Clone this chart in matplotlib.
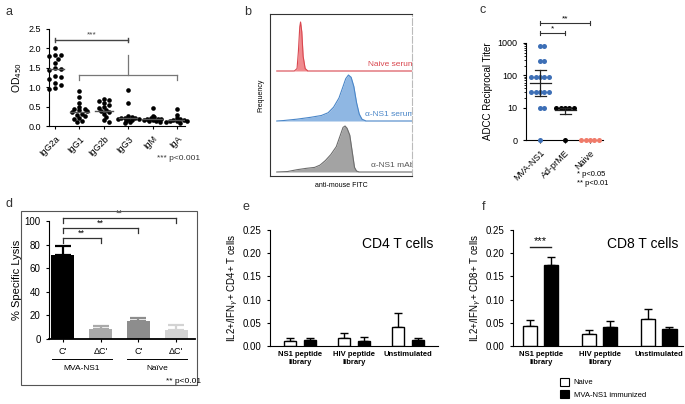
import numpy as np
import matplotlib
matplotlib.use("Agg")
import matplotlib.pyplot as plt
from matplotlib.patches import Rectangle, Patch

plt.rcParams['font.family'] = ['Liberation Sans', 'DejaVu Sans']
plt.rcParams['axes.linewidth'] = 0.8
plt.rcParams['xtick.major.width'] = 0.8
plt.rcParams['ytick.major.width'] = 0.8
plt.rcParams['xtick.major.size'] = 2.5
plt.rcParams['ytick.major.size'] = 2.5

W, H = 685, 404

# ---- panel a: OD450 per isotype
iso_names = ["IgG2a", "IgG1", "IgG2b", "IgG3", "IgM", "IgA"]
igg2a = [2.02, 1.83, 1.80, 1.82, 1.72, 1.63, 1.50, 1.47, 1.45, 1.30, 1.27, 1.22, 1.10, 1.05, 0.97, 0.95]
igg1 = [0.90, 0.75, 0.60, 0.50, 0.45, 0.44, 0.40, 0.38, 0.35, 0.32, 0.28, 0.25, 0.20, 0.18, 0.12, 0.10]
igg2b = [0.70, 0.68, 0.65, 0.60, 0.55, 0.50, 0.47, 0.42, 0.38, 0.35, 0.30, 0.22, 0.15, 0.10]
igg3 = [0.92, 0.60, 0.25, 0.22, 0.21, 0.20, 0.20, 0.19, 0.18, 0.17, 0.15, 0.13, 0.10, 0.08]
igm = [0.47, 0.27, 0.22, 0.20, 0.19, 0.18, 0.17, 0.16, 0.15, 0.14, 0.12, 0.10]
iga = [0.45, 0.28, 0.20, 0.17, 0.16, 0.15, 0.14, 0.13, 0.12, 0.11, 0.09]
iso_median = [1.47, 0.35, 0.38, 0.20, 0.18, 0.15]

# ---- panel b: histograms (x in % of axis, y relative to peak)
naive_x = [0, 13, 15, 16, 17, 17.6, 18.5, 19.5, 21, 23, 100]
naive_y = [0, 0, 0.05, 0.4, 0.9, 1.0, 0.8, 0.3, 0.05, 0, 0]
serum_x = [0, 5, 15, 25, 33, 38, 42, 46, 49, 51, 53, 55, 57, 59, 61, 63, 66, 100]
serum_y = [0, 0.01, 0.04, 0.08, 0.12, 0.18, 0.3, 0.5, 0.75, 0.92, 1.0, 0.95, 0.75, 0.4, 0.15, 0.04, 0, 0]
mab_x = [0, 8, 15, 22, 28, 32, 36, 40, 44, 47, 49, 50.5, 52, 54, 56, 57.5, 59, 61, 100]
mab_y = [0, 0.01, 0.05, 0.08, 0.1, 0.15, 0.25, 0.38, 0.55, 0.8, 0.97, 1.0, 0.95, 0.8, 0.4, 0.1, 0.02, 0, 0]

# ---- panel c: ADCC titers
adcc_groups = ["MVA-NS1", "Ad-prME", "Naive"]
adcc_mva = [810, 810, 270, 270, 90, 90, 90, 90, 90, 30, 30, 30, 30, 30, 10, 10, 0]
adcc_ad = [10, 10, 10, 10, 10, 0]
adcc_naive = [0, 0, 0, 0, 0]
adcc_mean = [60, 8.5]
adcc_lo = [23, 6.5]
adcc_hi = [150, 10]

# ---- panel d: specific lysis
lysis_labels = ["C'", "ΔC'", "C'", "ΔC'"]
lysis = [71, 8.5, 15.5, 8]
lysis_err = [8, 2.5, 2.5, 3.5]

# ---- panels e, f: T cells
tc_groups = ["NS1 peptide\nlibrary", "HIV peptide\nlibrary", "Unstimulated"]
cd4_naive = [0.011, 0.018, 0.040]
cd4_naive_err = [0.006, 0.010, 0.031]
cd4_mva = [0.014, 0.010, 0.012]
cd4_mva_err = [0.004, 0.009, 0.005]
cd8_naive = [0.043, 0.026, 0.059]
cd8_naive_err = [0.012, 0.009, 0.021]
cd8_mva = [0.175, 0.040, 0.036]
cd8_mva_err = [0.016, 0.013, 0.006]


def rect(x0, y0, x1, y1):
    return [x0 / W, 1 - y1 / H, (x1 - x0) / W, (y1 - y0) / H]


def beeswarm(vals, xs, ys, d, step=0.5):
    # xs, ys: pixels per data unit; d: minimum centre distance in px
    vals = np.asarray(vals, float)
    offs = np.zeros(len(vals))
    placed = []
    steps = [0]
    for k in range(1, 30):
        steps += [k * d * step, -k * d * step]
    for i in np.argsort(vals)[::-1]:
        ypx = vals[i] * ys
        for s in steps:
            if all((s - px) ** 2 + (ypx - py) ** 2 >= d ** 2 for px, py in placed):
                break
        placed.append((s, ypx))
        offs[i] = s / xs
    return offs


def clean(ax):
    ax.spines['top'].set_visible(False)
    ax.spines['right'].set_visible(False)


fig = plt.figure(figsize=(W / 100, H / 100), dpi=100)

# ================= a
ax = fig.add_axes(rect(49, 29, 185, 126))
clean(ax)
spread = [4.4, 3.6, 3.6, 2.5, 2.5, 2.5]
for i, vals in enumerate([igg2a, igg1, igg2b, igg3, igm, iga]):
    off = beeswarm(vals, 24.4, 38.8, spread[i], step=0.7)
    ax.scatter(i + off, vals, s=11, color='black', zorder=3, clip_on=False, linewidths=0)
    ax.plot([i - 0.38, i + 0.38], [iso_median[i]] * 2, color='#555555', lw=1, zorder=4)
ax.set_xlim(-0.25, 5.33)
ax.set_ylim(0, 2.5)
ax.set_yticks([0, 0.5, 1.0, 1.5, 2.0, 2.5])
ax.set_yticklabels(["0.0", "0.5", "1.0", "1.5", "2.0", "2.5"], fontsize=6.5)
ax.set_xticks(range(6))
ax.set_xticklabels(iso_names, fontsize=6.5, rotation=45, ha='right', rotation_mode='anchor')
ax.set_ylabel("OD$_{450}$", fontsize=7.5, labelpad=3)
ax.plot([0, 3], [2.22, 2.22], color='#444444', lw=1)
ax.plot([0, 0], [2.16, 2.28], color='#444444', lw=1)
ax.plot([3, 3], [2.16, 2.28], color='#444444', lw=1)
ax.text(1.5, 2.25, "***", ha='center', va='bottom', fontsize=6, color='#444444')
ax.plot([1, 5], [1.31, 1.31], color='#777777', lw=0.9)
ax.plot([1, 1], [1.19, 1.31], color='#777777', lw=0.9)
ax.plot([5, 5], [1.19, 1.31], color='#777777', lw=0.9)
ax.plot([3, 3], [1.31, 1.83], color='#777777', lw=0.9)
fig.text(157 / W, 1 - 160 / H, "*** p<0.001", fontsize=6, color='#333333')

# ================= b
ax = fig.add_axes(rect(270, 14, 412, 176))
b_base = [105, 55, 4]
b_height = [49, 46, 46]
b_fill = ['#f08a8e', '#8fb7e3', '#a3a3a3']
b_edge = ['#d9474f', '#4a86c8', '#6d6d6d']
b_text = ["Naive serum", "α-NS1 serum", "α-NS1 mAb"]
b_tcol = ['#d9474f', '#4a86c8', '#555555']
for (xs, ys), base, h, fc, ec, t, tc in zip(
        [(naive_x, naive_y), (serum_x, serum_y), (mab_x, mab_y)],
        b_base, b_height, b_fill, b_edge, b_text, b_tcol):
    xs = np.asarray(xs)
    yy = base + h * np.asarray(ys)
    ax.fill_between(xs, base, yy, color=fc, lw=0)
    ax.plot(xs, yy, color=ec, lw=0.8)
    ax.text(102, base + 3, t, ha='right', va='bottom', fontsize=6, color=tc, clip_on=True)
ax.set_xlim(-5, 100)
ax.set_ylim(0, 162)
ax.set_xticks([])
ax.set_yticks([])
for s in ['left', 'bottom', 'top']:
    ax.spines[s].set_color('#333333')
ax.spines['right'].set_color('#bbbbbb')
ax.spines['right'].set_linestyle((0, (6, 2)))
ax.set_xlabel("anti-mouse FITC", fontsize=5, labelpad=4)
ax.set_ylabel("Frequency", fontsize=5, labelpad=4)

# ================= c
ax = fig.add_axes(rect(526, 43, 603, 140))
clean(ax)
c_cols = ['#3d6fb6', 'black', '#f07b6a']
for i, (vals, col) in enumerate(zip([adcc_mva, adcc_ad, adcc_naive], c_cols)):
    v = np.asarray(vals, float)
    ly = np.where(v > 0, np.log10(np.maximum(v, 1)), 0)
    off = beeswarm(ly, 25, 32, 4.4)
    ax.scatter(i + off, ly, s=13, color=col, zorder=3, clip_on=False, linewidths=0)
for i in range(2):
    m = np.log10(adcc_mean[i])
    ax.plot([i - 0.42, i + 0.42], [m, m], color='#222222', lw=0.9, zorder=4)
    ax.plot([i, i], [np.log10(adcc_lo[i]), np.log10(adcc_hi[i])], color='#222222', lw=0.9, zorder=4)
    for e in [adcc_lo[i], adcc_hi[i]]:
        ax.plot([i - 0.22, i + 0.22], [np.log10(e)] * 2, color='#222222', lw=0.9, zorder=4)
ax.set_xlim(-0.56, 2.52)
ax.set_ylim(0, 3)
ax.set_yticks([0, 1, 2, 3])
ax.set_yticklabels(["0", "10", "100", "1000"], fontsize=6.5)
minor = [d + np.log10(k) for d in [1, 2] for k in range(2, 10)]
ax.set_yticks(minor, minor=True)
ax.tick_params(axis='y', which='minor', length=1.5, width=0.6)
ax.set_xticks(range(3))
ax.set_xticklabels(adcc_groups, fontsize=6.5, rotation=45, ha='right', rotation_mode='anchor')
ax.set_ylabel("ADCC Reciprocal Titer", fontsize=7, labelpad=3)
for x1, yb, star in [(1, 3.31, "*"), (2, 3.62, "**")]:
    ax.plot([0, x1], [yb, yb], color='#333333', lw=0.8, clip_on=False)
    ax.plot([0, 0], [yb - 0.06, yb + 0.06], color='#333333', lw=0.8, clip_on=False)
    ax.plot([x1, x1], [yb - 0.06, yb + 0.06], color='#333333', lw=0.8, clip_on=False)
    ax.text(x1 / 2, yb + 0.02, star, ha='center', va='bottom', fontsize=6, clip_on=False)
fig.text(577 / W, 1 - 176 / H, "* p<0.05", fontsize=5.5)
fig.text(577 / W, 1 - 185 / H, "** p<0.01", fontsize=5.5)

# ================= d
fig.patches.append(Rectangle((21 / W, 1 - 385 / H), 176 / W, 174 / H, transform=fig.transFigure,
                             fill=False, edgecolor='#555555', lw=0.8))
ax = fig.add_axes(rect(49, 221, 195, 339))
clean(ax)
d_cols = ['black', '#a9a9a9', '#8d8d8d', '#d3d3d3']
x = np.arange(4)
ax.bar(x, lysis, width=0.61, color=d_cols, zorder=2)
for i in range(4):
    ax.errorbar(x[i], lysis[i], yerr=[[0], [lysis_err[i]]], fmt='none', ecolor=d_cols[i],
                elinewidth=1.6, capsize=6, capthick=1.6, zorder=1)
ax.set_xlim(-0.37, 3.5)
ax.set_ylim(0, 100)
ax.set_yticks([0, 20, 40, 60, 80, 100])
ax.tick_params(axis='y', labelsize=7)
ax.spines['bottom'].set_linewidth(1.3)
ax.set_xticks(x)
ax.set_xticklabels(lysis_labels, fontsize=6.5)
ax.set_ylabel("% Specific Lysis", fontsize=8, labelpad=2)
for x1, yb in [(1, 85.6), (2, 94), (3, 102.5)]:
    ax.plot([0, x1], [yb, yb], color='#333333', lw=0.9, clip_on=False)
    ax.plot([0, 0], [yb - 4, yb], color='#333333', lw=0.9, clip_on=False)
    ax.plot([x1, x1], [yb - 4, yb], color='#333333', lw=0.9, clip_on=False)
    ax.text(x1 / 2, yb + 0.5, "**", ha='center', va='bottom', fontsize=6.5, clip_on=False)
tr = ax.get_xaxis_transform()
for (a0, a1), name in [((-0.3, 1.3), "MVA-NS1"), ((1.7, 3.3), "Naïve")]:
    ax.plot([a0, a1], [-0.17, -0.17], color='black', lw=0.7, transform=tr, clip_on=False)
    ax.text((a0 + a1) / 2, -0.22, name, ha='center', va='top', fontsize=6, transform=tr)
fig.text(166 / W, 1 - 383 / H, "** p<0.01", fontsize=6)

# ================= e, f


def tcell(ax, nv, ne, mv, me, bw, off, title, ylab):
    clean(ax)
    x = np.arange(3)
    ax.bar(x - off, nv, width=bw, color='white', edgecolor='black', lw=1, zorder=2)
    ax.bar(x + off, mv, width=bw, color='black', edgecolor='black', lw=1, zorder=2)
    ax.errorbar(x - off, nv, yerr=[np.zeros(3), ne], fmt='none', ecolor='black',
                elinewidth=1, capsize=3, capthick=1, zorder=1)
    ax.errorbar(x + off, mv, yerr=[np.zeros(3), me], fmt='none', ecolor='black',
                elinewidth=1, capsize=3, capthick=1, zorder=1)
    ax.set_ylim(0, 0.25)
    ax.set_yticks([0, 0.05, 0.10, 0.15, 0.20, 0.25])
    ax.set_yticklabels(["0.00", "0.05", "0.10", "0.15", "0.20", "0.25"], fontsize=7)
    ax.set_xticks(x)
    ax.set_xticklabels(tc_groups, fontsize=5.5, fontweight='bold', linespacing=1.2)
    ax.tick_params(axis='x', length=0)
    ax.set_ylabel(ylab, fontsize=7, labelpad=2)
    ax.text(0.97, 0.88, title, transform=ax.transAxes, ha='right', va='center', fontsize=10)


ax = fig.add_axes(rect(270, 230, 438, 346))
tcell(ax, cd4_naive, cd4_naive_err, cd4_mva, cd4_mva_err, 0.22, 0.19, "CD4 T cells",
      "IL2+/IFN$_{\\gamma}$+ CD4+ T cells")
ax.set_xlim(-0.56, 2.56)

ax = fig.add_axes(rect(513, 230, 683, 346))
tcell(ax, cd8_naive, cd8_naive_err, cd8_mva, cd8_mva_err, 0.24, 0.18, "CD8 T cells",
      "IL2+/IFN$_{\\gamma}$+ CD8+ T cells")
ax.set_xlim(-0.47, 2.41)
ax.plot([-0.18, 0.18], [0.213, 0.213], color='#222222', lw=1)
ax.text(0, 0.216, "***", ha='center', va='bottom', fontsize=8)

handles = [Patch(facecolor='white', edgecolor='black', lw=0.8),
           Patch(facecolor='black', edgecolor='black', lw=0.8)]
fig.legend(handles, ["Naive", "MVA-NS1 immunized"], loc='upper left',
           bbox_to_anchor=(560 / W, 1 - 378 / H), frameon=False, fontsize=5.5,
           handlelength=1.2, handleheight=1.2, labelspacing=0.5, handletextpad=0.6,
           borderpad=0, borderaxespad=0)

# panel letters
for t, px, py in [("a", 5, 12), ("b", 244, 12), ("c", 479, 10), ("d", 5, 204),
                  ("e", 243, 207), ("f", 482, 207)]:
    fig.text(px / W, 1 - py / H, t, fontsize=9, va='center', color='#333333')

fig.savefig("out.png", dpi=100)
